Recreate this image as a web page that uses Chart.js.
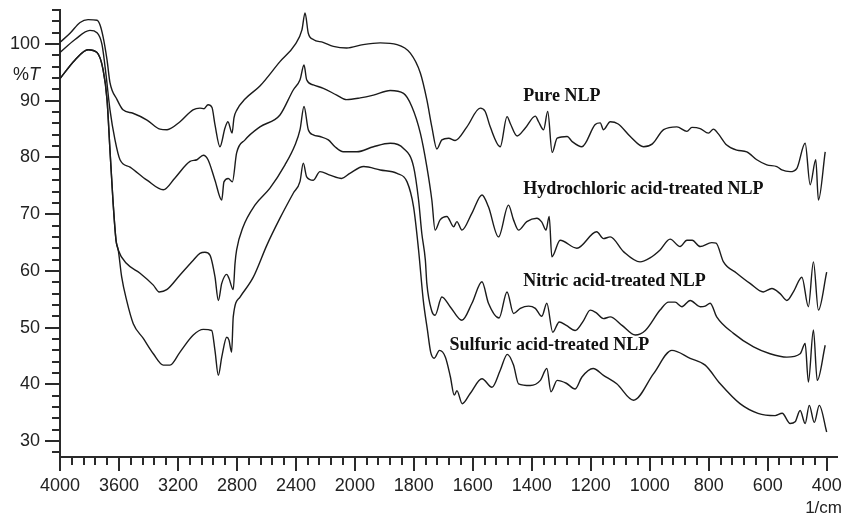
<!DOCTYPE html>
<html>
<head>
<meta charset="utf-8">
<script src="https://cdn.jsdelivr.net/npm/chart.js@4/dist/chart.umd.min.js"></script>
<style>
  html, body { margin: 0; padding: 0; background: #ffffff; }
  #wrap { width: 844px; height: 517px; }
</style>
</head>
<body>
<div id="wrap"><canvas id="ftir" width="844" height="517"></canvas></div>
<script>
// FTIR transmittance spectra, [wavenumber (1/cm), %T]
const pureNLP = [
  [4000,100.3],[3932,101.9],[3864,103.8],[3810,104.3],[3749,104.2],[3729,103.4],[3708,101.3],[3681,97.2],
  [3661,93.2],[3613,90.2],[3573,88.4],[3505,87.8],[3410,86.6],[3322,85.0],[3274,84.9],[3186,86.3],
  [3098,88.4],[3051,88.7],[3023,88.6],[2996,89.3],[2969,88.8],[2949,85.8],[2915,81.9],[2881,85.2],
  [2861,86.3],[2833,84.3],[2820,87.0],[2800,88.4],[2745,90.3],[2644,92.6],[2508,96.9],[2406,99.9],
  [2359,102.5],[2338,105.5],[2316,101.9],[2282,100.8],[2216,100.3],[2146,99.6],[2056,99.3],[1972,99.9],
  [1914,100.2],[1857,99.9],[1812,98.4],[1778,94.9],[1756,90.2],[1739,85.4],[1722,81.5],[1705,83.1],
  [1682,83.4],[1660,83.0],[1620,85.4],[1575,88.7],[1558,88.1],[1541,85.4],[1507,81.9],[1484,87.2],
  [1473,86.0],[1450,83.8],[1422,85.2],[1388,87.3],[1377,86.3],[1360,84.9],[1346,88.1],[1331,80.9],
  [1314,83.4],[1280,83.7],[1263,82.8],[1230,81.9],[1185,85.8],[1168,86.1],[1157,84.9],[1134,86.3],
  [1107,85.9],[1066,83.7],[1021,81.9],[991,82.4],[953,84.9],[908,85.4],[874,84.6],[857,85.3],
  [829,85.1],[801,84.3],[784,85.0],[768,84.2],[739,82.2],[705,81.3],[671,81.0],[637,79.6],
  [603,78.7],[569,78.4],[552,77.8],[524,77.5],[501,78.1],[473,82.5],[456,75.2],[437,79.6],
  [428,72.5],[405,81.0]
];

const hydrochloricNLP = [
  [4000,98.5],[3898,100.8],[3797,102.4],[3749,102.0],[3715,99.9],[3688,94.6],[3661,88.4],[3627,83.1],
  [3593,79.6],[3525,78.3],[3410,76.0],[3299,74.3],[3220,76.4],[3118,79.3],[3071,79.6],[3028,80.4],
  [2996,79.6],[2949,76.0],[2903,72.5],[2888,75.7],[2859,76.3],[2831,75.7],[2802,80.8],[2745,83.1],
  [2644,85.4],[2508,87.5],[2418,91.9],[2372,93.7],[2345,96.3],[2327,93.7],[2282,92.8],[2214,92.2],
  [2123,91.0],[2056,90.2],[1982,90.5],[1937,91.0],[1880,91.8],[1835,91.3],[1807,89.0],[1778,84.3],
  [1756,78.4],[1739,72.5],[1728,67.2],[1711,69.0],[1688,69.6],[1665,67.8],[1654,68.7],[1637,67.2],
  [1603,70.2],[1569,73.4],[1547,71.3],[1513,66.0],[1479,71.6],[1462,69.0],[1445,67.2],[1417,68.7],
  [1383,69.3],[1366,68.6],[1352,67.2],[1341,69.6],[1332,62.5],[1304,65.4],[1247,64.0],[1180,66.9],
  [1157,65.7],[1134,66.0],[1089,63.4],[1033,61.6],[999,62.3],[965,63.7],[931,65.6],[897,64.3],
  [874,65.4],[856,65.4],[829,64.3],[790,65.0],[775,64.9],[750,61.6],[705,59.6],[660,57.8],
  [615,56.3],[586,56.9],[558,56.0],[535,54.8],[513,56.3],[484,58.9],[462,53.7],[445,61.6],
  [428,53.1],[400,59.8]
];

const nitricNLP = [
  [4000,93.9],[3898,97.2],[3810,99.0],[3749,98.5],[3708,95.5],[3681,90.2],[3661,81.3],[3641,72.5],
  [3620,65.4],[3605,63.7],[3548,61.3],[3457,59.6],[3367,57.5],[3327,56.3],[3276,56.7],[3186,59.3],
  [3096,61.9],[3051,63.1],[3017,63.3],[2983,62.8],[2949,59.0],[2926,54.8],[2903,57.8],[2869,59.4],
  [2854,58.7],[2825,56.7],[2813,61.3],[2802,63.7],[2759,67.7],[2678,71.6],[2576,74.6],[2474,78.7],
  [2406,82.2],[2372,84.9],[2345,89.0],[2316,84.9],[2282,84.0],[2237,83.7],[2180,83.1],[2135,81.9],
  [2079,81.0],[1993,81.0],[1937,81.9],[1880,82.5],[1835,81.6],[1801,78.4],[1784,72.5],[1773,66.6],
  [1761,61.9],[1756,57.8],[1739,52.9],[1728,52.2],[1705,55.4],[1677,53.7],[1637,51.3],[1603,54.3],
  [1569,58.1],[1547,54.3],[1511,51.7],[1484,56.3],[1462,52.5],[1439,53.4],[1411,53.8],[1388,53.4],
  [1366,52.0],[1349,54.3],[1329,49.2],[1307,51.0],[1283,50.4],[1253,49.5],[1224,51.3],[1202,53.1],
  [1181,52.6],[1157,51.6],[1134,51.9],[1094,50.4],[1049,48.7],[1015,49.5],[965,53.1],[936,54.5],
  [914,54.5],[891,53.7],[863,54.8],[829,53.7],[812,53.8],[795,54.3],[773,51.9],[716,49.0],
  [648,46.6],[592,45.4],[535,44.8],[490,45.4],[473,47.2],[462,40.4],[445,49.6],[432,40.7],
  [405,46.9]
];

const sulfuricNLP = [
  [4000,93.9],[3898,97.2],[3810,99.0],[3749,98.5],[3708,95.5],[3681,90.2],[3661,81.3],[3641,72.5],
  [3620,65.4],[3605,63.7],[3582,59.0],[3548,54.8],[3503,50.7],[3435,48.1],[3367,45.4],[3299,43.4],
  [3254,43.4],[3186,45.7],[3096,48.7],[3028,49.7],[2971,49.5],[2949,46.0],[2926,41.6],[2903,44.8],
  [2869,48.3],[2854,47.8],[2836,45.7],[2825,51.9],[2779,55.4],[2689,58.9],[2596,64.6],[2508,69.3],
  [2418,73.7],[2372,75.8],[2350,79.0],[2327,76.6],[2282,76.0],[2237,77.5],[2169,76.9],[2090,76.3],
  [2034,77.2],[1970,78.4],[1914,77.8],[1857,77.2],[1823,75.7],[1801,71.3],[1784,63.7],[1768,54.8],
  [1754,49.6],[1743,45.7],[1731,44.6],[1713,46.0],[1693,44.8],[1676,41.3],[1663,38.1],[1654,38.9],
  [1636,36.6],[1609,38.4],[1569,41.0],[1535,39.5],[1507,42.5],[1483,45.3],[1462,43.4],[1445,40.1],
  [1405,39.8],[1371,40.7],[1349,42.8],[1335,38.7],[1314,40.7],[1283,40.2],[1253,39.2],[1230,41.3],
  [1192,42.8],[1157,41.6],[1112,40.1],[1055,37.2],[987,41.9],[925,46.0],[863,44.6],[812,43.4],
  [761,40.1],[694,36.6],[633,34.9],[575,34.5],[551,34.9],[524,33.1],[507,33.4],[490,35.4],
  [473,33.1],[459,36.3],[442,33.3],[425,36.3],[400,31.6]
];

// Axis ticks
const xMajorTicks = [4000, 3600, 3200, 2800, 2400, 2000, 1800, 1600, 1400, 1200, 1000, 800, 600, 400];
const yMajorTicks = [30, 40, 50, 60, 70, 80, 90, 100];

// Curve captions: [text, wavenumber at left edge, %T at text middle]
const captionText = ['Pure NLP', 'Hydrochloric acid-treated NLP', 'Nitric acid-treated NLP', 'Sulfuric acid-treated NLP'];
const captionWn   = [1429, 1429, 1429, 1679];
const captionT    = [90.7, 74.3, 58.1, 46.9];

const INK = '#1b1b1b';
const AXIS_INK = '#2a2a2a';

// The wavenumber axis is expanded 2x below 2000 1/cm
const FOLD_AT = 2000;
const fold = w => (w > FOLD_AT ? FOLD_AT + (w - FOLD_AT) / 2 : w);
const unfold = f => (f > FOLD_AT ? FOLD_AT + (f - FOLD_AT) * 2 : f);

class SplitWavenumberScale extends Chart.LinearScale {
  static id = 'splitWavenumber';
  static defaults = Chart.LinearScale.defaults;
  buildTicks() {
    return xMajorTicks
      .filter(v => v >= this.min && v <= this.max)
      .sort((a, b) => a - b)
      .map(value => ({ value }));
  }
  getPixelForValue(value) {
    const a = fold(this.min), b = fold(this.max);
    return this.getPixelForDecimal((fold(value) - a) / (b - a));
  }
  getValueForPixel(pixel) {
    const a = fold(this.min), b = fold(this.max);
    return unfold(a + this.getDecimalForPixel(pixel) * (b - a));
  }
}
Chart.register(SplitWavenumberScale);

const toPoints = arr => arr.map(([x, y]) => ({ x, y }));
const lineStyle = {
  borderColor: INK,
  borderWidth: 1.4,
  pointRadius: 0,
  fill: false,
  cubicInterpolationMode: 'monotone'
};

// Tick marks (major + minor), captions and axis unit labels
const spectrumDecor = {
  id: 'spectrumDecor',
  afterDraw(chart) {
    const { ctx } = chart;
    const xs = chart.scales.x, ys = chart.scales.y;
    ctx.save();
    ctx.strokeStyle = AXIS_INK;
    ctx.lineWidth = 2;
    for (let f = 400; f <= 3000; f += 40) {
      const px = Math.round(xs.getPixelForValue(unfold(f)));
      const len = f % 200 === 0 ? 14 : 8;
      ctx.beginPath();
      ctx.moveTo(px, xs.top);
      ctx.lineTo(px, xs.top + len);
      ctx.stroke();
    }
    for (let v = 28; v <= 106; v += 2) {
      const py = Math.round(ys.getPixelForValue(v));
      const len = v % 10 === 0 ? 15 : 8;
      ctx.beginPath();
      ctx.moveTo(ys.right, py);
      ctx.lineTo(ys.right - len, py);
      ctx.stroke();
    }

    // captions
    ctx.fillStyle = '#111111';
    ctx.font = 'bold 18px "Liberation Serif", "Times New Roman", serif';
    ctx.textAlign = 'left';
    ctx.textBaseline = 'middle';
    captionText.forEach((t, i) => {
      ctx.fillText(t, xs.getPixelForValue(captionWn[i]), ys.getPixelForValue(captionT[i]));
    });

    // %T on the value axis
    ctx.fillStyle = '#222222';
    const yLabelY = ys.getPixelForValue(94.6);
    const right = ys.right - 20;
    ctx.font = 'italic 18px "Liberation Sans", Arial, sans-serif';
    const wT = ctx.measureText('T').width;
    ctx.textAlign = 'right';
    ctx.fillText('T', right, yLabelY);
    ctx.font = '18px "Liberation Sans", Arial, sans-serif';
    ctx.fillText('%', right - wT, yLabelY);

    // unit under the wavenumber axis
    ctx.font = '17px "Liberation Sans", Arial, sans-serif';
    ctx.textAlign = 'right';
    ctx.fillText('1/cm', 842, 508);
    ctx.restore();
  }
};

new Chart(document.getElementById('ftir'), {
  type: 'line',
  data: {
    datasets: [
      { label: 'Pure NLP', data: toPoints(pureNLP), ...lineStyle },
      { label: 'Hydrochloric acid-treated NLP', data: toPoints(hydrochloricNLP), ...lineStyle },
      { label: 'Nitric acid-treated NLP', data: toPoints(nitricNLP), ...lineStyle },
      { label: 'Sulfuric acid-treated NLP', data: toPoints(sulfuricNLP), ...lineStyle }
    ]
  },
  options: {
    responsive: false,
    devicePixelRatio: 1,
    animation: false,
    layout: { padding: { top: 10, right: 7, left: 0, bottom: 0 } },
    plugins: { legend: { display: false }, tooltip: { enabled: false } },
    scales: {
      x: {
        type: 'splitWavenumber',
        reverse: true,
        min: 365,
        max: 4000,
        grid: { display: true, drawOnChartArea: false, drawTicks: false },
        border: { display: true, color: AXIS_INK, width: 2 },
        ticks: {
          autoSkip: false,
          maxRotation: 0,
          minRotation: 0,
          padding: 18,
          color: '#222222',
          font: { family: '"Liberation Sans", Arial, sans-serif', size: 18 },
          callback: v => String(v)
        },
        afterFit: s => { s.height = 60; s.paddingLeft = 0; s.paddingRight = 0; }
      },
      y: {
        type: 'linear',
        min: 27.2,
        max: 106,
        grid: { display: true, drawOnChartArea: false, drawTicks: false },
        border: { display: true, color: AXIS_INK, width: 2 },
        ticks: {
          padding: 20,
          color: '#222222',
          font: { family: '"Liberation Sans", Arial, sans-serif', size: 18 },
          callback: v => String(v)
        },
        afterBuildTicks: s => { s.ticks = yMajorTicks.map(value => ({ value })); },
        afterFit: s => { s.width = 60; s.paddingTop = 0; s.paddingBottom = 0; }
      }
    }
  },
  plugins: [spectrumDecor]
});
</script>
</body>
</html>
